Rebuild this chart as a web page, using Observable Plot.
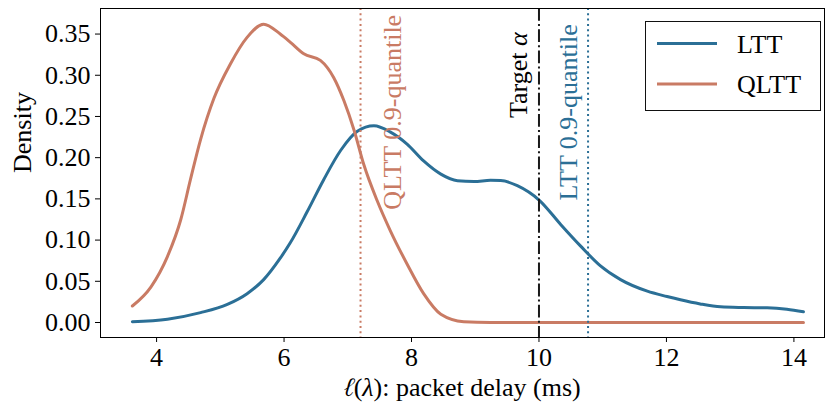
<!DOCTYPE html>
<html>
<head>
<meta charset="utf-8">
<script src="https://cdn.jsdelivr.net/npm/d3@7"></script>
<script src="https://cdn.jsdelivr.net/npm/@observablehq/plot@0.6"></script>
<style>
  html, body { margin: 0; padding: 0; background: white; }
  #wrap { position: relative; width: 825px; height: 403px; }
  #legend { position: absolute; left: 645px; top: 21px; width: 174px; height: 88px;
            border: 1.3px solid #111; background: white; }
</style>
</head>
<body>
<div id="wrap"><div id="chart"></div><div id="legend"></div></div>
<script>
// ---- data ----
const lttX = [3.62, 4.17, 4.69, 5.11, 5.42, 5.68, 5.94, 6.10, 6.36, 6.62, 6.89, 7.15, 7.41, 7.67, 7.93, 8.19, 8.46, 8.72, 8.98, 9.24, 9.40, 9.66, 10.01, 10.34, 10.65, 10.96, 11.28, 11.70, 12.01, 12.22, 12.53, 12.85, 13.21, 13.58, 13.89, 14.15];
const lttY = [0.001, 0.004, 0.012, 0.022, 0.035, 0.052, 0.078, 0.097, 0.134, 0.173, 0.209, 0.232, 0.2387, 0.231, 0.2165, 0.196, 0.180, 0.172, 0.171, 0.1725, 0.1723, 0.166, 0.148, 0.119, 0.093, 0.069, 0.052, 0.038, 0.0315, 0.0275, 0.0225, 0.019, 0.0182, 0.0178, 0.016, 0.013];
const qlttX = [3.62, 3.91, 4.17, 4.38, 4.53, 4.69, 4.90, 5.16, 5.42, 5.68, 5.94, 6.10, 6.31, 6.57, 6.78, 6.94, 7.10, 7.25, 7.46, 7.67, 7.93, 8.19, 8.46, 8.82, 9.24, 10.0, 11.0, 12.0, 13.0, 14.15];
const qlttY = [0.020, 0.043, 0.080, 0.125, 0.173, 0.222, 0.272, 0.314, 0.346, 0.362, 0.350, 0.340, 0.326, 0.318, 0.297, 0.269, 0.233, 0.192, 0.148, 0.111, 0.071, 0.035, 0.010, 0.001, 0.000, 0, 0, 0, 0, 0];
const seriesNames = ["LTT", "QLTT"];
const seriesColors = ["#2b6f96", "#c97b64"];
const quantileValues = [10.77, 7.2];          // LTT, QLTT 0.9-quantiles
const targetAlpha = 10;
const xTicks = [4, 6, 8, 10, 12, 14];
const yTicks = [0, 0.05, 0.10, 0.15, 0.20, 0.25, 0.30, 0.35];
const xLabel = "ℓ(λ): packet delay (ms)";
const yLabel = "Density";
const quantileLabels = ["LTT 0.9-quantile", "QLTT 0.9-quantile"];
const quantileLabelX = [10.46, 7.7];
const labelY = 0.255;
const targetLabel = "Target α";
const targetLabelX = 9.68;
const targetLabelY = 0.30;

const ltt = lttX.map((x, i) => ({x, y: lttY[i]}));
const qltt = qlttX.map((x, i) => ({x, y: qlttY[i]}));
const FONT = "Liberation Serif";
const FS = 26;

const chart = Plot.plot({
  width: 825, height: 403,
  marginLeft: 100, marginRight: 1, marginTop: 8, marginBottom: 66,
  style: {fontFamily: FONT, fontSize: FS + "px"},
  x: {domain: [3.12, 14.48], ticks: xTicks, tickFormat: d => String(d), tickSize: 5, tickPadding: 5, label: null},
  y: {domain: [-0.0182, 0.381], ticks: yTicks, tickFormat: d3.format(".2f"), tickSize: 5, tickPadding: 5, label: null},
  marks: [
    Plot.line(ltt, {x: "x", y: "y", stroke: seriesColors[0], strokeWidth: 3, curve: "monotone-x"}),
    Plot.line(qltt, {x: "x", y: "y", stroke: seriesColors[1], strokeWidth: 3, curve: "monotone-x"}),
    Plot.ruleX([quantileValues[1]], {stroke: seriesColors[1], strokeWidth: 2, strokeDasharray: "2,3.3"}),
    Plot.ruleX([targetAlpha], {stroke: "#1a1a1a", strokeWidth: 2, strokeDasharray: "12.8,3.2,2,3.2"}),
    Plot.ruleX([quantileValues[0]], {stroke: seriesColors[0], strokeWidth: 2, strokeDasharray: "2,3.3"}),
    Plot.text([0, 1], {x: i => quantileLabelX[i], y: () => labelY, text: i => quantileLabels[i],
      fill: i => seriesColors[i], rotate: -90, textAnchor: "middle", lineAnchor: "middle"}),
    Plot.text([targetLabel], {x: () => targetLabelX, y: () => targetLabelY, text: d => d,
      fill: "black", rotate: -90, textAnchor: "middle", lineAnchor: "middle"}),
    Plot.text([xLabel], {frameAnchor: "bottom", text: d => d, dy: 50, lineAnchor: "middle"}),
    Plot.text([yLabel], {frameAnchor: "left", text: d => d, dx: -78, rotate: -90, lineAnchor: "middle"}),
    Plot.frame({stroke: "black", strokeWidth: 1})
  ]
});
document.getElementById("chart").appendChild(chart);

// italic Greek letters (and script ℓ) as in mathtext
const NS = "http://www.w3.org/2000/svg";
chart.querySelectorAll("text").forEach(t => {
  const s = t.textContent;
  if (s === targetLabel || s === xLabel) {
    const parts = s.split(/([αλℓ])/);
    t.textContent = "";
    parts.forEach(p => {
      if (!p) return;
      const ts = document.createElementNS(NS, "tspan");
      if (p === "α" || p === "λ") ts.setAttribute("font-style", "italic");
      if (p === "ℓ") ts.setAttribute("font-family", "FreeSerif");
      ts.textContent = p;
      t.appendChild(ts);
    });
  }
});

// legend
const lg = d3.select("#legend").append("svg").attr("width", 174).attr("height", 88)
  .style("position", "absolute").style("left", "0px").style("top", "0px");
seriesNames.forEach((name, i) => {
  const cy = 21.5 + i * 40.5;
  lg.append("line").attr("x1", 11).attr("x2", 71).attr("y1", cy).attr("y2", cy)
    .attr("stroke", seriesColors[i]).attr("stroke-width", 3);
  lg.append("text").attr("x", 91).attr("y", cy).attr("dy", "0.35em")
    .attr("font-family", FONT).attr("font-size", FS).attr("fill", "black").text(name);
});
</script>
</body>
</html>
